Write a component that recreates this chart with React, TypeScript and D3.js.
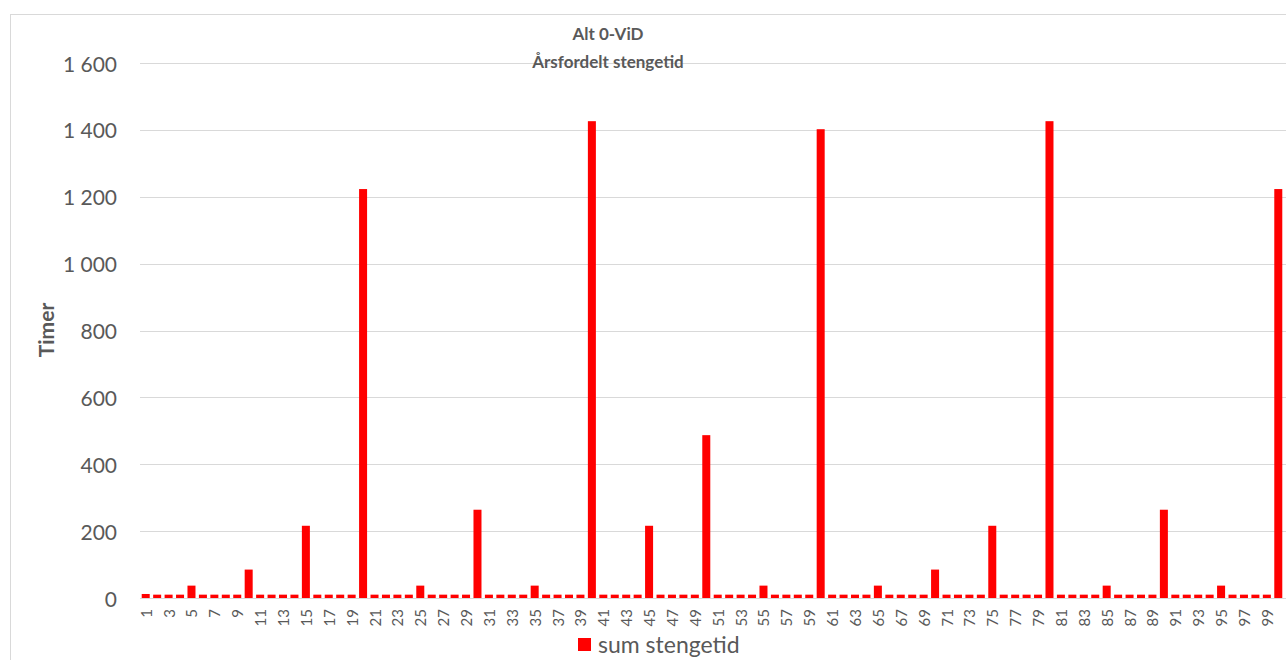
import React from "react";
import * as d3 from "d3";

const categories: number[] = Array.from({ length: 100 }, (_, i) => i + 1);
const values: number[] = [
  12, 10, 10, 10, 37, 10, 10, 10, 10, 85,
  10, 10, 10, 10, 216, 10, 10, 10, 10, 1223,
  10, 10, 10, 10, 37, 10, 10, 10, 10, 264,
  10, 10, 10, 10, 37, 10, 10, 10, 10, 1426,
  10, 10, 10, 10, 216, 10, 10, 10, 10, 487,
  10, 10, 10, 10, 37, 10, 10, 10, 10, 1402,
  10, 10, 10, 10, 37, 10, 10, 10, 10, 85,
  10, 10, 10, 10, 216, 10, 10, 10, 10, 1426,
  10, 10, 10, 10, 37, 10, 10, 10, 10, 264,
  10, 10, 10, 10, 37, 10, 10, 10, 10, 1223,
];
const yTicks: number[] = [0, 200, 400, 600, 800, 1000, 1200, 1400, 1600];
const title = "Alt 0-ViD";
const subtitle = "Årsfordelt stengetid";
const yTitle = "Timer";
const seriesName = "sum stengetid";

const W = 1286;
const H = 660;
const FONT = "Lato, 'Open Sans', sans-serif";

export default function App() {
  const x = d3.scaleBand<number>().domain(categories).range([140, 1284]).paddingInner(0.3).paddingOuter(0.15);
  const y = d3.scaleLinear().domain([0, 1600]).range([598, 63]);
  const fmt = (v: number) => d3.format(",")(v).replace(/,/g, " ");

  return (
    <svg width={W} height={H} style={{ position: "absolute", left: 0, top: 0, background: "#fff" }}>
      <rect x={10.5} y={14.5} width={W + 20} height={H + 20} fill="#fff" stroke="#d9d9d9" />
      {yTicks.map((t) => (
        <g key={t}>
          <line x1={140} x2={W} y1={Math.round(y(t)) + 0.5} y2={Math.round(y(t)) + 0.5} stroke="#d9d9d9" strokeWidth={1} />
          <text x={117} y={y(t)} textAnchor="end" dominantBaseline="central" fontFamily={FONT} fontSize={21} fill="#595959">
            {fmt(t)}
          </text>
        </g>
      ))}
      {categories.map((c, i) => (
        <rect key={c} x={x(c)!} width={x.bandwidth()} y={y(values[i])} height={y(0) - y(values[i])} fill="#ff0000" />
      ))}
      {categories.filter((c) => c % 2 === 1).map((c) => {
        const cx = x(c)! + x.bandwidth() / 2;
        return (
          <text key={c} transform={`translate(${cx},609) rotate(-90)`} textAnchor="end" dominantBaseline="central" fontFamily={FONT} fontSize={15} fill="#595959">
            {c}
          </text>
        );
      })}
      <text x={608} y={33} textAnchor="middle" dominantBaseline="central" fontFamily={FONT} fontSize={17} fontWeight="bold" fill="#595959">
        {title}
      </text>
      <text x={608} y={61} textAnchor="middle" dominantBaseline="central" fontFamily={FONT} fontSize={17} fontWeight="bold" fill="#595959">
        {subtitle}
      </text>
      <text transform={`translate(45,330) rotate(-90)`} textAnchor="middle" dominantBaseline="central" fontFamily={FONT} fontSize={21} fontWeight="bold" fill="#595959">
        {yTitle}
      </text>
      <rect x={578} y={638} width={13} height={13} fill="#ff0000" />
      <text x={598} y={644} dominantBaseline="central" fontFamily={FONT} fontSize={23} fill="#595959">
        {seriesName}
      </text>
    </svg>
  );
}
